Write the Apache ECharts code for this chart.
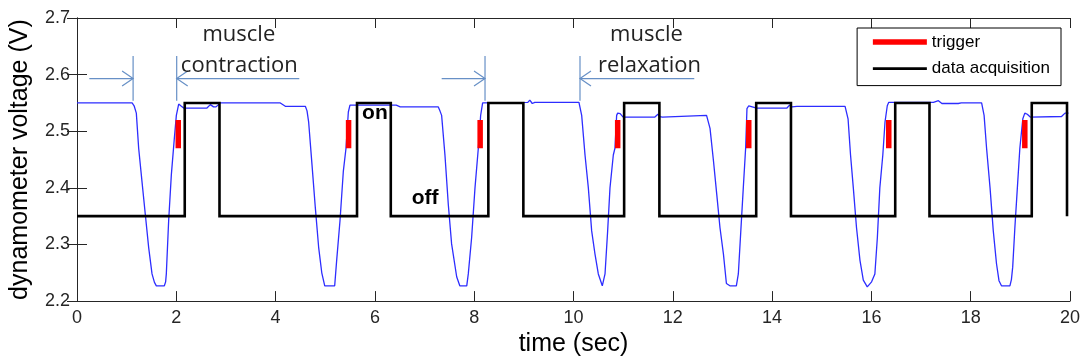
<!DOCTYPE html>
<html>
<head>
<meta charset="utf-8">
<script src="https://cdn.jsdelivr.net/npm/echarts@6/dist/echarts.min.js"></script>
<style>
  html, body { margin: 0; padding: 0; background: #fff; }
  #chart { width: 1083px; height: 362px; }
</style>
</head>
<body>
<div id="chart"></div>
<script>
// Dynamometer output: time (s) and voltage (V)
const forceTime = [
  0, 0.9, 0.93, 0.96, 1.0, 1.03, 1.11, 1.15, 1.195, 1.242, 1.309, 1.376, 1.443, 1.511, 1.56, 1.598, 1.759,
  1.785, 1.799, 1.846, 1.9, 1.96, 2.001, 2.048, 2.09, 2.148, 2.618, 2.685, 2.75, 2.8, 2.887, 3.48, 3.5, 3.52,
  3.75, 3.77, 3.79, 4.095, 4.196, 4.599, 4.633, 4.666, 4.733, 4.8, 4.867, 4.93, 4.99, 5.19,
  5.23, 5.297, 5.364, 5.418, 5.465, 5.498, 6.43, 6.47, 6.51, 7.277, 7.31, 7.344, 7.411, 7.478, 7.545,
  7.647, 7.71, 7.85, 7.881, 7.948, 8.016, 8.083, 8.13, 8.17, 9.08, 9.12, 9.17, 9.22, 10.11,
  10.165, 10.232, 10.299, 10.366, 10.433, 10.5, 10.58, 10.635, 10.688, 10.735, 10.802, 10.835, 10.869,
  10.89, 10.94, 11.0, 11.64, 11.7, 11.74, 11.79, 11.83, 12.68, 12.75, 12.82, 12.886, 12.95, 13.02,
  13.08, 13.15, 13.28, 13.32, 13.37, 13.42, 13.467, 13.494, 13.53, 13.69, 14.3, 14.35, 14.4, 14.5,
  15.47, 15.53, 15.58, 15.636, 15.7, 15.77, 15.837, 15.917, 16.004, 16.07, 16.12, 16.17, 16.23,
  16.274, 16.32, 16.35, 17.25, 17.35, 17.42, 17.75, 17.78, 17.81, 18.22, 18.27, 18.32, 18.39,
  18.455, 18.52, 18.57, 18.62, 18.79, 18.82, 18.846, 18.89, 18.94, 18.99, 19.05, 19.09, 19.14, 19.2, 19.83, 19.9, 19.97
];
const forceVolt = [
  2.55, 2.55, 2.547, 2.55, 2.547, 2.55, 2.55, 2.545, 2.532, 2.47, 2.411, 2.353, 2.295, 2.248, 2.233, 2.227, 2.227,
  2.234, 2.248, 2.342, 2.423, 2.487, 2.528, 2.548, 2.545, 2.541, 2.541, 2.547, 2.543, 2.543, 2.55, 2.55, 2.547, 2.55,
  2.55, 2.547, 2.55, 2.55, 2.544, 2.544, 2.536, 2.516, 2.441, 2.365, 2.295, 2.25, 2.227, 2.227,
  2.272, 2.342, 2.429, 2.47, 2.534, 2.546, 2.546, 2.549, 2.543, 2.543, 2.536, 2.528, 2.458, 2.371, 2.301,
  2.243, 2.227, 2.227, 2.248, 2.312, 2.4, 2.47, 2.528, 2.55, 2.551, 2.555, 2.549, 2.551, 2.551,
  2.528, 2.458, 2.4, 2.324, 2.283, 2.248, 2.227, 2.248, 2.324, 2.4, 2.458, 2.47, 2.528,
  2.532, 2.531, 2.525, 2.525, 2.53, 2.526, 2.525, 2.528, 2.528, 2.505, 2.447, 2.388, 2.33, 2.283,
  2.231, 2.227, 2.227, 2.248, 2.324, 2.4, 2.47, 2.54, 2.545, 2.541, 2.541, 2.546, 2.543, 2.544,
  2.544, 2.522, 2.458, 2.4, 2.33, 2.272, 2.237, 2.225, 2.234, 2.248, 2.312, 2.4, 2.458,
  2.516, 2.545, 2.551, 2.551, 2.554, 2.549, 2.549, 2.547, 2.55, 2.55, 2.528, 2.47, 2.4,
  2.324, 2.266, 2.236, 2.227, 2.227, 2.238, 2.26, 2.33, 2.4, 2.47, 2.522, 2.532, 2.53, 2.525, 2.526, 2.532, 2.532
];

// Trigger pulses: firing times and the voltage span each marker covers
const triggerTimes = [2.04, 5.47, 8.12, 10.89, 13.53, 16.35, 19.09];
const triggerSpan = [2.47, 2.52];

// Data acquisition window: switch-on / switch-off times and the two levels
const acqOn = [2.17, 5.64, 8.285, 11.02, 13.68, 16.48, 19.23];
const acqOff = [2.87, 6.32, 8.99, 11.73, 14.38, 17.17, 19.94];
const acqLevels = [2.35, 2.55];

// Axis ranges
const xRange = [0, 20, 2];
const yRange = [2.2, 2.7, 0.1];

// Interval annotations: arrows from tail to tip (time), at one voltage level
const arrowTails = [0.248, 4.477, 7.345, 12.433];
const arrowTips = [1.13, 2.008, 8.218, 10.131];
const arrowLevel = 2.593;
const arrowMarkSpan = [2.554, 2.633];

// Text notes: [time, voltage, text, style]
const notes = [
  [3.26, 2.671, 'muscle', 'note'],
  [3.27, 2.615, 'contraction', 'note'],
  [11.47, 2.671, 'muscle', 'note'],
  [11.53, 2.615, 'relaxation', 'note'],
  [6.0, 2.532, 'on', 'state'],
  [7.01, 2.382, 'off', 'state']
];

const forceData = forceTime.map((t, i) => [t, forceVolt[i]]);

const triggerData = [];
triggerTimes.forEach(t => {
  triggerData.push([t, triggerSpan[0]], [t, triggerSpan[1]], [t, null]);
});

const acqData = [[xRange[0], acqLevels[0]]];
acqOn.forEach((t, i) => {
  acqData.push([t, acqLevels[0]], [t, acqLevels[1]], [acqOff[i], acqLevels[1]], [acqOff[i], acqLevels[0]]);
});

const axisColor = '#262626';
const sansFont = '"Liberation Sans", Arial, sans-serif';

const baseX = {
  type: 'value', min: xRange[0], max: xRange[1], interval: xRange[2],
  axisLine: { show: true, lineStyle: { color: axisColor, width: 1 } },
  axisTick: { show: true, inside: true, length: 10, lineStyle: { color: axisColor } },
  splitLine: { show: false }
};
const baseY = {
  type: 'value', min: yRange[0], max: yRange[1], interval: yRange[2],
  axisLine: { show: true, lineStyle: { color: axisColor, width: 1 } },
  axisTick: { show: true, inside: true, length: 10, lineStyle: { color: axisColor } },
  splitLine: { show: false }
};

const chart = echarts.init(document.getElementById('chart'), null, { renderer: 'canvas' });

chart.setOption({
  animation: false,
  backgroundColor: '#fff',
  grid: { left: 77, right: 13, top: 18, bottom: 58, containLabel: false },
  xAxis: [
    Object.assign({}, baseX, {
      position: 'bottom',
      name: 'time (sec)', nameLocation: 'middle', nameGap: 29,
      nameTextStyle: { fontFamily: sansFont, fontSize: 25, color: '#000' },
      axisLabel: { margin: 8, fontFamily: sansFont, fontSize: 18, color: axisColor }
    }),
    Object.assign({}, baseX, { position: 'top', axisLabel: { show: false } })
  ],
  yAxis: [
    Object.assign({}, baseY, {
      position: 'left',
      name: 'dynamometer voltage (V)', nameLocation: 'middle', nameGap: 44,
      nameTextStyle: { fontFamily: sansFont, fontSize: 25, color: '#000' },
      axisLabel: { margin: 7, fontFamily: sansFont, fontSize: 18, color: axisColor,
        formatter: v => v.toFixed(1) }
    }),
    Object.assign({}, baseY, { position: 'right', axisLabel: { show: false } })
  ],
  legend: {
    orient: 'vertical', right: 22, top: 28,
    padding: [5, 11, 8, 13],
    itemWidth: 54, itemHeight: 18, itemGap: 8.6,
    backgroundColor: '#fff', borderColor: '#000', borderWidth: 1, borderRadius: 0,
    textStyle: { fontFamily: sansFont, fontSize: 17, color: '#000', lineHeight: 18 },
    data: [
      { name: 'trigger', lineStyle: { width: 5.5 }, itemStyle: { opacity: 0 } },
      { name: 'data acquisition', lineStyle: { width: 2.6 }, itemStyle: { opacity: 0 } }
    ]
  },
  series: [
    {
      name: 'dynamometer', type: 'line', data: forceData,
      symbol: 'none', showSymbol: false,
      lineStyle: { color: '#2d2dff', width: 1.3 }, z: 2
    },
    {
      name: 'trigger', type: 'line', data: triggerData, connectNulls: false,
      symbol: 'none', showSymbol: false, color: '#ff0000',
      lineStyle: { color: '#ff0000', width: 5.5, cap: 'butt' }, z: 3
    },
    {
      name: 'data acquisition', type: 'line', data: acqData,
      symbol: 'none', showSymbol: false, color: '#000',
      lineStyle: { color: '#000', width: 2.6, join: 'miter' }, z: 4
    }
  ]
});

// Annotation overlay placed through the chart's own coordinate system
function toPx(t, v) { return chart.convertToPixel({ xAxisIndex: 0, yAxisIndex: 0 }, [t, v]); }
const arrowColor = '#6790c6';
const overlay = [];
arrowTails.forEach((tail, i) => {
  const a = toPx(tail, arrowLevel);
  const b = toPx(arrowTips[i], arrowLevel);
  const top = toPx(arrowTips[i], arrowMarkSpan[1]);
  const bottom = toPx(arrowTips[i], arrowMarkSpan[0]);
  const dir = Math.sign(b[0] - a[0]);
  overlay.push({ type: 'line', silent: true, z: 10,
    shape: { x1: a[0], y1: a[1], x2: b[0], y2: b[1] },
    style: { stroke: arrowColor, lineWidth: 1.2 } });
  overlay.push({ type: 'polyline', silent: true, z: 10,
    shape: { points: [[b[0] - dir * 11, b[1] - 7.5], [b[0], b[1]], [b[0] - dir * 11, b[1] + 7.5]] },
    style: { stroke: arrowColor, fill: null, lineWidth: 1.2 } });
  overlay.push({ type: 'line', silent: true, z: 10,
    shape: { x1: top[0], y1: top[1], x2: bottom[0], y2: bottom[1] },
    style: { stroke: arrowColor, lineWidth: 1.2 } });
});
notes.forEach(n => {
  const p = toPx(n[0], n[1]);
  const isState = n[3] === 'state';
  overlay.push({ type: 'text', silent: true, z: 11, x: p[0], y: p[1],
    style: {
      text: n[2], align: 'center', verticalAlign: 'middle',
      fill: isState ? '#000' : '#222',
      font: isState ? 'bold 21px "Liberation Sans", Arial, sans-serif'
                    : '22px "Open Sans", "Noto Sans", sans-serif'
    } });
});
chart.setOption({ graphic: overlay });
</script>
</body>
</html>
